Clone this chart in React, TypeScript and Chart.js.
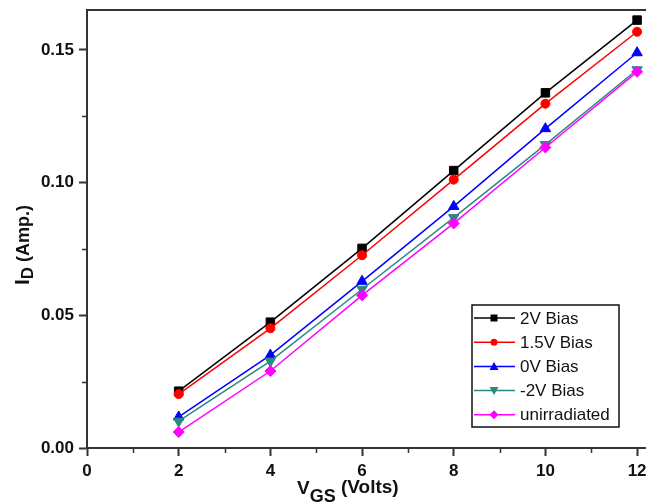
import React, { useEffect, useRef } from 'react';
import { Chart, registerables } from 'chart.js';
Chart.register(...registerables);

// ---- data ----
const vgs = [2, 4, 6, 8, 10, 12];
const bias2V = [0.0214, 0.0474, 0.0752, 0.1045, 0.1338, 0.1612];
const bias15V = [0.0203, 0.0451, 0.0726, 0.1011, 0.1297, 0.1568];
const bias0V = [0.0117, 0.035, 0.0628, 0.091, 0.1203, 0.1489];
const biasNeg2V = [0.0101, 0.0327, 0.0598, 0.0868, 0.1143, 0.1425];
const unirradiated = [0.006, 0.029, 0.0575, 0.0846, 0.1132, 0.1417];
const seriesLabels = ['2V Bias', '1.5V Bias', '0V Bias', '-2V Bias', 'unirradiated'];
const xTicks = [0, 2, 4, 6, 8, 10, 12];
const yTicks = [0, 0.05, 0.1, 0.15];
const xMinorTicks = [1, 3, 5, 7, 9, 11];
const yMinorTicks = [0.025, 0.075, 0.125];

// ---- styles ----
const FONT = "'Liberation Sans', Arial, Helvetica, sans-serif";
const colors = ['#000000', '#ff0000', '#0000ff', '#2a8a80', '#ff00ff'];
const pointStyles = ['rect', 'circle', 'triangle', 'triangle', 'rectRot'];
const pointRotations = [0, 0, 0, 180, 0];
const pointRadii = [6, 4.5, 6, 6, 5.5];
const seriesValues = [bias2V, bias15V, bias0V, biasNeg2V, unirradiated];

function drawMarker(ctx: CanvasRenderingContext2D, kind: number, cx: number, cy: number, color: string) {
  ctx.save();
  ctx.fillStyle = color;
  ctx.beginPath();
  if (kind === 0) {
    ctx.rect(cx - 3.5, cy - 3.5, 7, 7);
  } else if (kind === 1) {
    ctx.arc(cx, cy, 3.5, 0, Math.PI * 2);
  } else if (kind === 2) {
    ctx.moveTo(cx, cy - 4.5);
    ctx.lineTo(cx + 4.5, cy + 3.5);
    ctx.lineTo(cx - 4.5, cy + 3.5);
    ctx.closePath();
  } else if (kind === 3) {
    ctx.moveTo(cx, cy + 4.5);
    ctx.lineTo(cx + 4.5, cy - 3.5);
    ctx.lineTo(cx - 4.5, cy - 3.5);
    ctx.closePath();
  } else {
    ctx.moveTo(cx, cy - 4.5);
    ctx.lineTo(cx + 4.5, cy);
    ctx.lineTo(cx, cy + 4.5);
    ctx.lineTo(cx - 4.5, cy);
    ctx.closePath();
  }
  ctx.fill();
  ctx.restore();
}

const overlay = {
  id: 'overlay',
  afterDraw(chart: any) {
    const { ctx, chartArea: ca, scales } = chart;
    const x = scales.x;
    const y = scales.y;
    ctx.save();
    ctx.strokeStyle = '#333';
    ctx.lineWidth = 2;
    // top frame line
    ctx.beginPath();
    ctx.moveTo(ca.left - 1, ca.top);
    ctx.lineTo(ca.right + 30, ca.top);
    ctx.stroke();
    // minor ticks
    ctx.lineWidth = 1.5;
    ctx.beginPath();
    for (const v of xMinorTicks) {
      const px = Math.round(x.getPixelForValue(v)) + 0.5;
      ctx.moveTo(px, ca.bottom);
      ctx.lineTo(px, ca.bottom + 5);
    }
    for (const v of yMinorTicks) {
      const py = Math.round(y.getPixelForValue(v)) + 0.5;
      ctx.moveTo(ca.left, py);
      ctx.lineTo(ca.left - 5, py);
    }
    ctx.stroke();

    // x axis title: V_GS (Volts)
    ctx.fillStyle = '#111';
    ctx.textBaseline = 'alphabetic';
    ctx.textAlign = 'left';
    let tx = 297;
    ctx.font = `bold 19px ${FONT}`;
    ctx.fillText('V', tx, 494);
    tx += ctx.measureText('V').width;
    ctx.font = `bold 18px ${FONT}`;
    ctx.fillText('GS', tx, 502);
    tx += ctx.measureText('GS').width;
    ctx.font = `bold 19px ${FONT}`;
    ctx.fillText(' (Volts)', tx, 493);

    // y axis title: I_D (Amp.)
    ctx.save();
    ctx.translate(29, 245);
    ctx.rotate(-Math.PI / 2);
    ctx.font = `bold 21px ${FONT}`;
    const wI = ctx.measureText('I').width;
    ctx.font = `bold 17px ${FONT}`;
    const wD = ctx.measureText('D').width;
    ctx.font = `bold 18px ${FONT}`;
    const wA = ctx.measureText(' (Amp.)').width;
    let ty = -(wI + wD + wA) / 2;
    ctx.font = `bold 21px ${FONT}`;
    ctx.fillText('I', ty, 0);
    ty += wI;
    ctx.font = `bold 17px ${FONT}`;
    ctx.fillText('D', ty, 4);
    ty += wD;
    ctx.font = `bold 18px ${FONT}`;
    ctx.fillText(' (Amp.)', ty, 0);
    ctx.restore();

    // legend
    const lx = 472, ly = 305, lw = 147, lh = 122;
    ctx.fillStyle = '#ffffff';
    ctx.fillRect(lx, ly, lw, lh);
    ctx.strokeStyle = '#111';
    ctx.lineWidth = 1.5;
    ctx.strokeRect(lx, ly, lw, lh);
    ctx.font = `17px ${FONT}`;
    ctx.textBaseline = 'middle';
    seriesLabels.forEach((label, i) => {
      const ry = 318 + i * 24.2;
      ctx.strokeStyle = colors[i];
      ctx.lineWidth = 1.5;
      ctx.beginPath();
      ctx.moveTo(lx + 2, ry);
      ctx.lineTo(lx + 43, ry);
      ctx.stroke();
      drawMarker(ctx, i, lx + 22, ry, colors[i]);
      ctx.fillStyle = '#111';
      ctx.fillText(label, lx + 48, ry + 1);
    });
    ctx.restore();
  },
};

export default function App() {
  const ref = useRef<HTMLCanvasElement>(null);
  useEffect(() => {
    const datasets = seriesLabels.map((label, i) => ({
      label,
      data: vgs.map((v, k) => ({ x: v, y: seriesValues[i][k] })),
      borderColor: colors[i],
      backgroundColor: colors[i],
      pointBackgroundColor: colors[i],
      pointBorderColor: colors[i],
      pointBorderWidth: 1,
      borderWidth: 1.5,
      pointStyle: pointStyles[i] as any,
      rotation: pointRotations[i],
      pointRotation: pointRotations[i],
      pointRadius: pointRadii[i],
      tension: 0,
      order: 4 - i,
    }));
    const tickFont = { family: FONT, size: 17, weight: 'bold' as const };
    const chart = new Chart(ref.current!, {
      type: 'line',
      data: { datasets },
      options: {
        responsive: false,
        animation: false,
        devicePixelRatio: 1,
        layout: { padding: { left: 0, top: 10, right: 20, bottom: 0 } },
        plugins: { legend: { display: false }, tooltip: { enabled: false }, title: { display: false } },
        scales: {
          x: {
            type: 'linear',
            min: 0,
            max: 12.5,
            afterBuildTicks: (s: any) => {
              s.ticks = xTicks.map((v) => ({ value: v }));
            },
            afterFit: (s: any) => {
              s.height = 56;
              s.paddingLeft = 0;
              s.paddingRight = 0;
            },
            grid: { drawOnChartArea: false, drawTicks: true, tickLength: 8, tickWidth: 2, tickColor: '#333' },
            border: { display: true, color: '#333', width: 2 },
            ticks: {
              font: tickFont,
              color: '#111',
              padding: 5,
              maxRotation: 0,
              autoSkip: false,
              callback: (v: any) => String(v),
            },
          },
          y: {
            type: 'linear',
            min: 0,
            max: 0.165,
            afterBuildTicks: (s: any) => {
              s.ticks = yTicks.map((v) => ({ value: v }));
            },
            afterFit: (s: any) => {
              s.width = 87;
              s.paddingTop = 0;
              s.paddingBottom = 0;
            },
            grid: { drawOnChartArea: false, drawTicks: true, tickLength: 8, tickWidth: 2, tickColor: '#333' },
            border: { display: true, color: '#333', width: 2 },
            ticks: {
              font: tickFont,
              color: '#111',
              padding: 5,
              autoSkip: false,
              callback: (v: any) => Number(v).toFixed(2),
            },
          },
        },
      },
      plugins: [overlay],
    });
    return () => chart.destroy();
  }, []);
  return (
    <div
      style={{
        position: 'fixed',
        left: 0,
        top: 0,
        width: 646,
        height: 504,
        overflow: 'hidden',
        background: '#ffffff',
      }}
    >
      <canvas ref={ref} width={680} height={504} style={{ display: 'block', width: 680, height: 504 }} />
    </div>
  );
}
